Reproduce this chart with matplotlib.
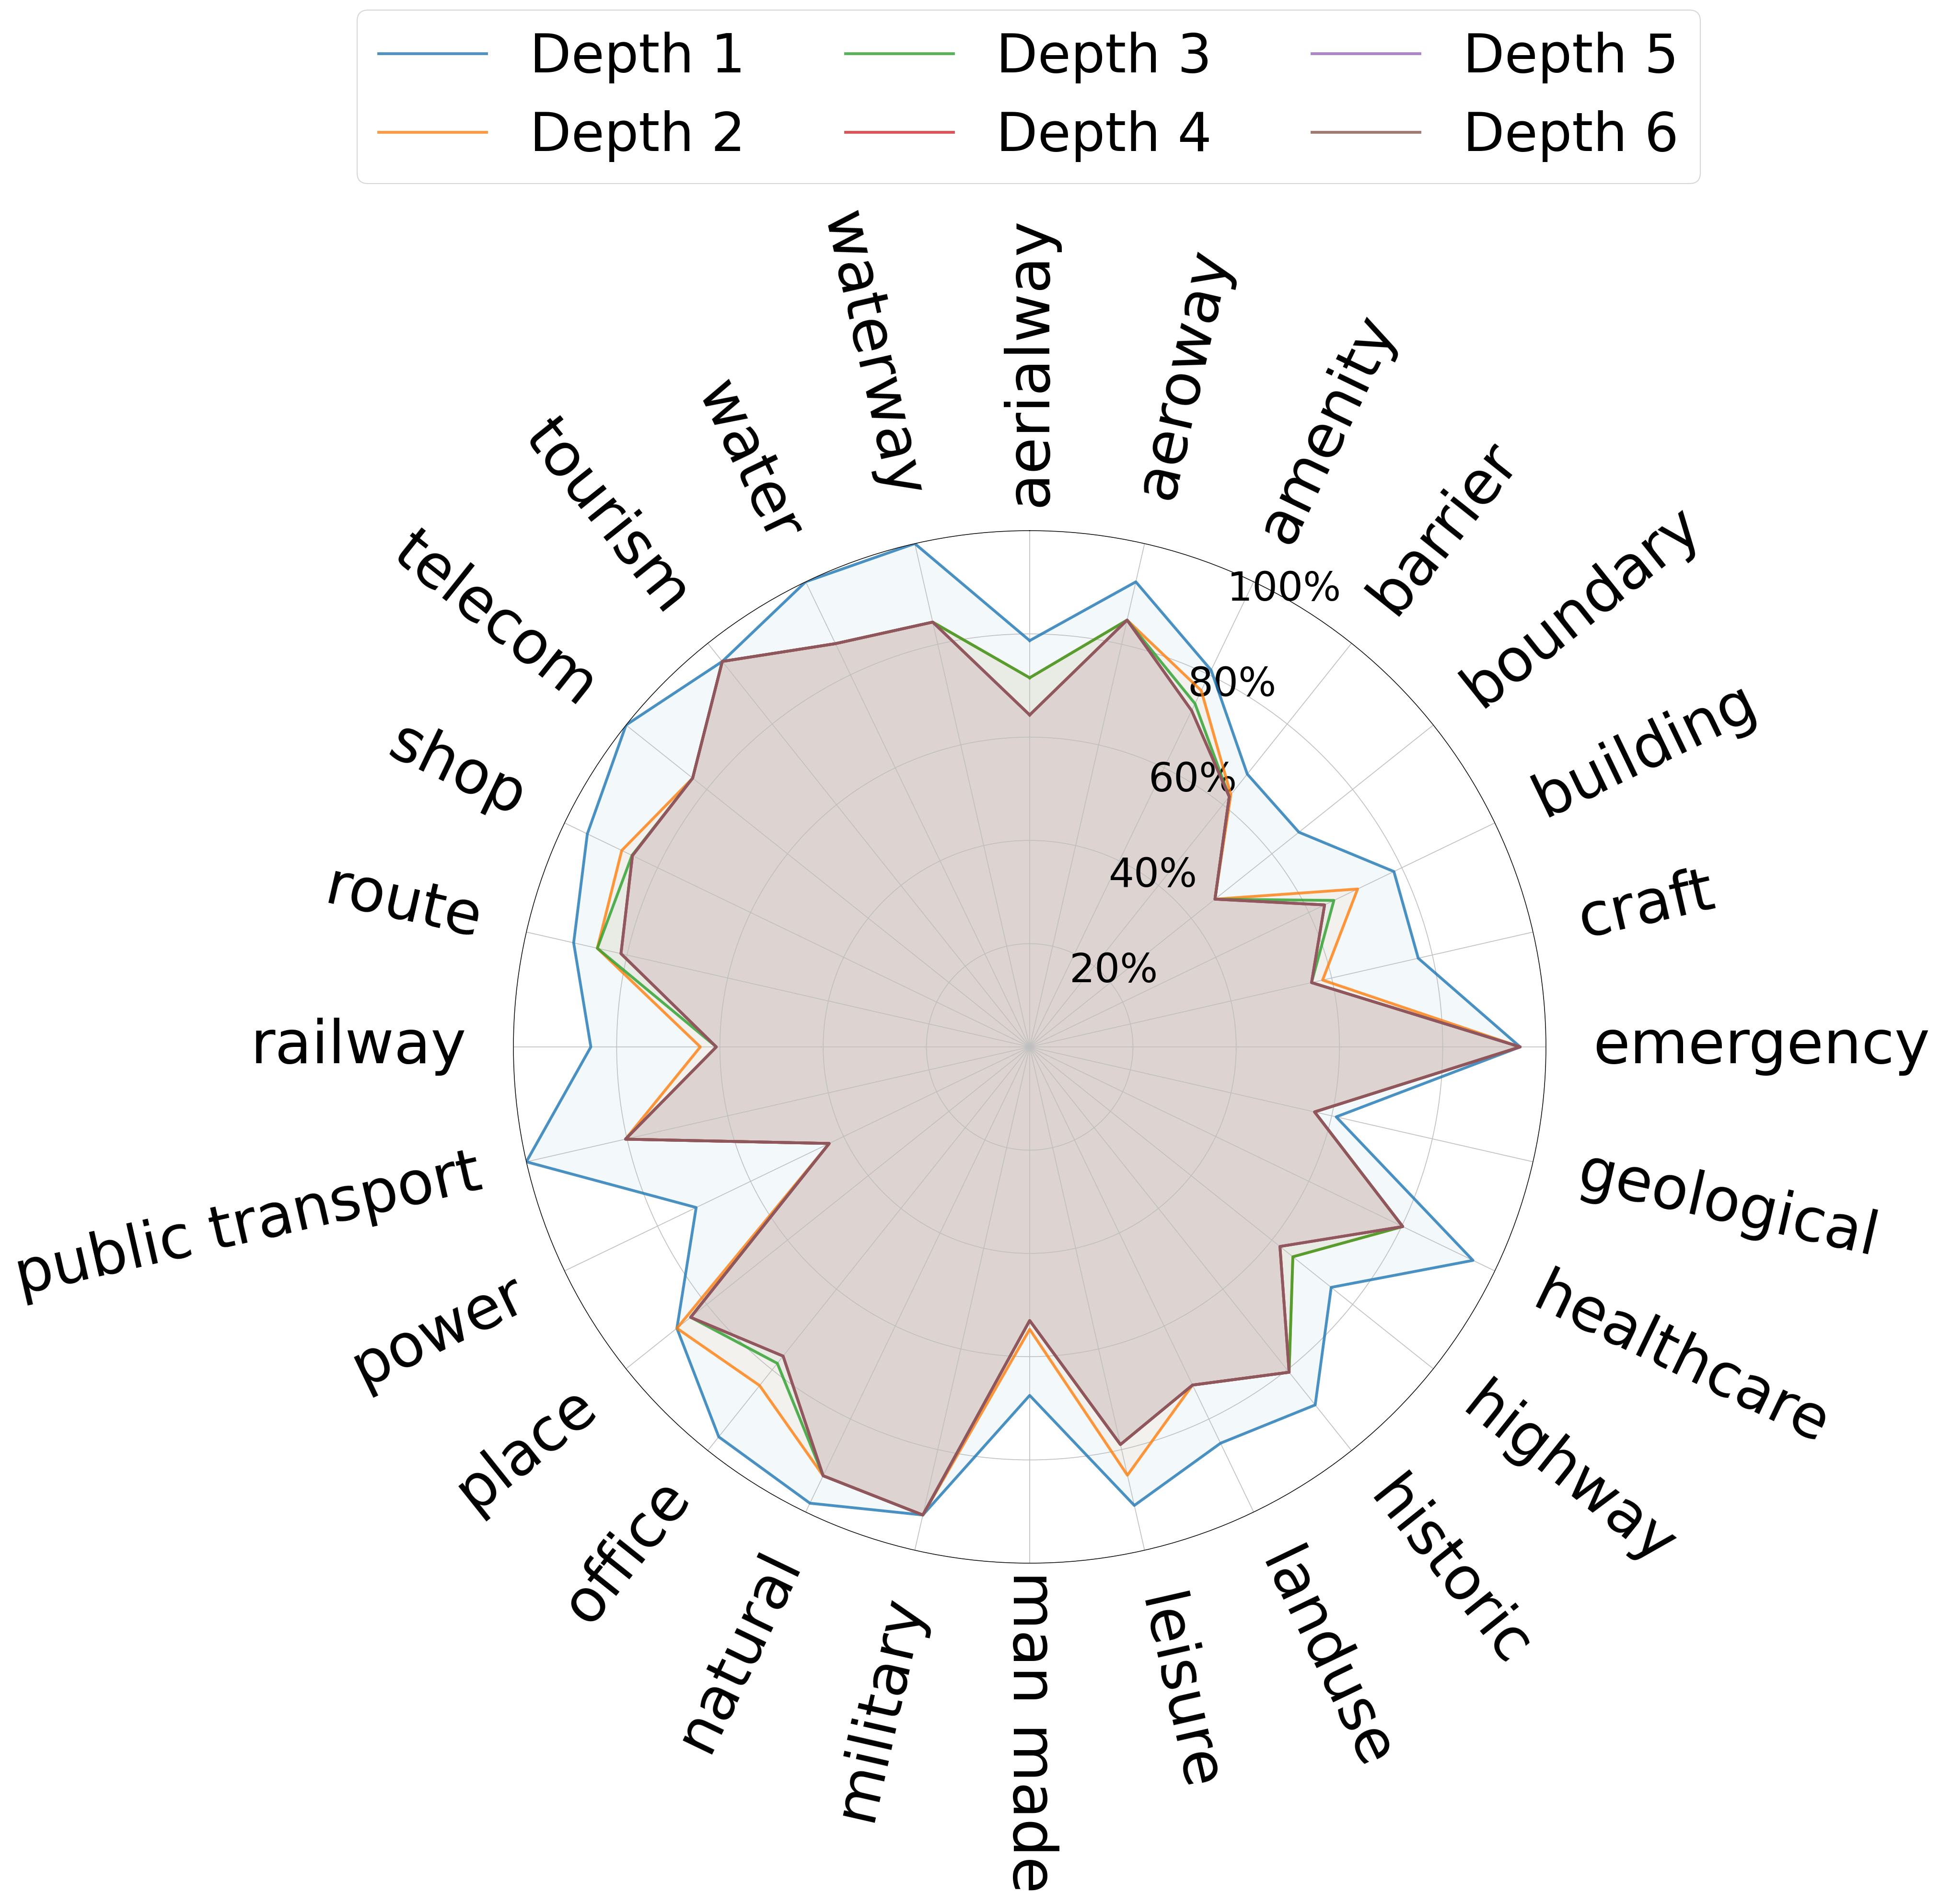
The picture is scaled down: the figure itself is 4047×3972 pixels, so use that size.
import numpy as np
import matplotlib
matplotlib.use("Agg")
import matplotlib.pyplot as plt

categories = ["aerialway", "aeroway", "amenity", "barrier", "boundary", "building",
              "craft", "emergency", "geological", "healthcare", "highway", "historic",
              "landuse", "leisure", "man made", "military", "natural", "office",
              "place", "power", "public transport", "railway", "route", "shop",
              "telecom", "tourism", "water", "waterway"]

depth1 = [0.787, 0.924, 0.810, 0.676, 0.667, 0.783, 0.772, 0.950, 0.609, 0.953,
          0.747, 0.887, 0.852, 0.911, 0.675, 0.930, 0.981, 0.966, 0.874, 0.717,
          1.000, 0.850, 0.906, 0.951, 1.000, 0.955, 1.000, 1.000]
depth2 = [0.715, 0.848, 0.766, 0.625, 0.459, 0.705, 0.582, 0.950, 0.566, 0.802,
          0.652, 0.806, 0.727, 0.851, 0.547, 0.930, 0.922, 0.839, 0.874, 0.431,
          0.803, 0.638, 0.859, 0.877, 0.835, 0.955, 0.867, 0.844]
depth3 = [0.715, 0.848, 0.738, 0.620, 0.459, 0.654, 0.560, 0.950, 0.566, 0.802,
          0.652, 0.806, 0.727, 0.790, 0.530, 0.930, 0.922, 0.784, 0.840, 0.431,
          0.803, 0.607, 0.859, 0.855, 0.835, 0.955, 0.867, 0.844]
depth4 = [0.643, 0.848, 0.723, 0.620, 0.459, 0.634, 0.560, 0.950, 0.566, 0.802,
          0.620, 0.806, 0.727, 0.790, 0.530, 0.930, 0.922, 0.766, 0.840, 0.431,
          0.803, 0.607, 0.812, 0.854, 0.835, 0.955, 0.867, 0.844]
depth5 = list(depth4)
depth6 = list(depth4)

series = [("Depth 1", depth1, "#1f77b4"), ("Depth 2", depth2, "#ff7f0e"),
          ("Depth 3", depth3, "#2ca02c"), ("Depth 4", depth4, "#d62728"),
          ("Depth 5", depth5, "#9467bd"), ("Depth 6", depth6, "#8c564b")]

r_ticks = [0.2, 0.4, 0.6, 0.8, 1.0]
r_tick_labels = ["20%", "40%", "60%", "80%", "100%"]

W, H, DPI = 4047, 3972, 150
fig = plt.figure(figsize=(W / DPI, H / DPI), dpi=DPI)
cx, cy, R = 2148, 2184, 1077
ax = fig.add_axes([(cx - R) / W, (H - cy - R) / H, 2 * R / W, 2 * R / H], projection="polar")
ax.set_theta_offset(np.pi / 2)
ax.set_theta_direction(-1)

n = len(categories)
angles = np.linspace(0, 2 * np.pi, n, endpoint=False)
ang_closed = np.concatenate([angles, angles[:1]])

handles = []
for name, vals, col in series:
    v = np.concatenate([vals, vals[:1]])
    h, = ax.plot(ang_closed, v, color=col, lw=2.8, alpha=0.8, label=name)
    ax.fill(ang_closed, v, color=col, alpha=0.05)
    handles.append(h)

ax.set_ylim(0, 1)
ax.set_yticks(r_ticks)
ax.set_yticklabels(r_tick_labels, fontsize=40, va="top")
for lbl in ax.get_yticklabels():
    lbl.set_verticalalignment("top")
ax.set_xticks(angles)
ax.set_xticklabels([])
ax.grid(True, color="#c0c0c0", lw=0.8)
ax.spines["polar"].set_linewidth(0.7)

for ang, cat in zip(angles, categories):
    deg = np.degrees(ang)
    rot = 90 - deg
    if deg <= 180:
        ha = "left"
    else:
        ha = "right"
        rot += 180
    if np.isclose(deg, 0):
        rl = 1.046
    elif np.isclose(deg, 180):
        rl = 1.015
    else:
        rl = 1.091
    ax.text(ang, rl, cat, rotation=rot, rotation_mode="anchor", ha=ha, va="center",
            fontsize=60, clip_on=False)

fig.legend(handles=handles, loc="upper center", bbox_to_anchor=(2146 / W, 1 - 21 / H),
           ncol=3, fontsize=54, borderaxespad=0, columnspacing=1.85)

fig.savefig("out.png", dpi=DPI)
